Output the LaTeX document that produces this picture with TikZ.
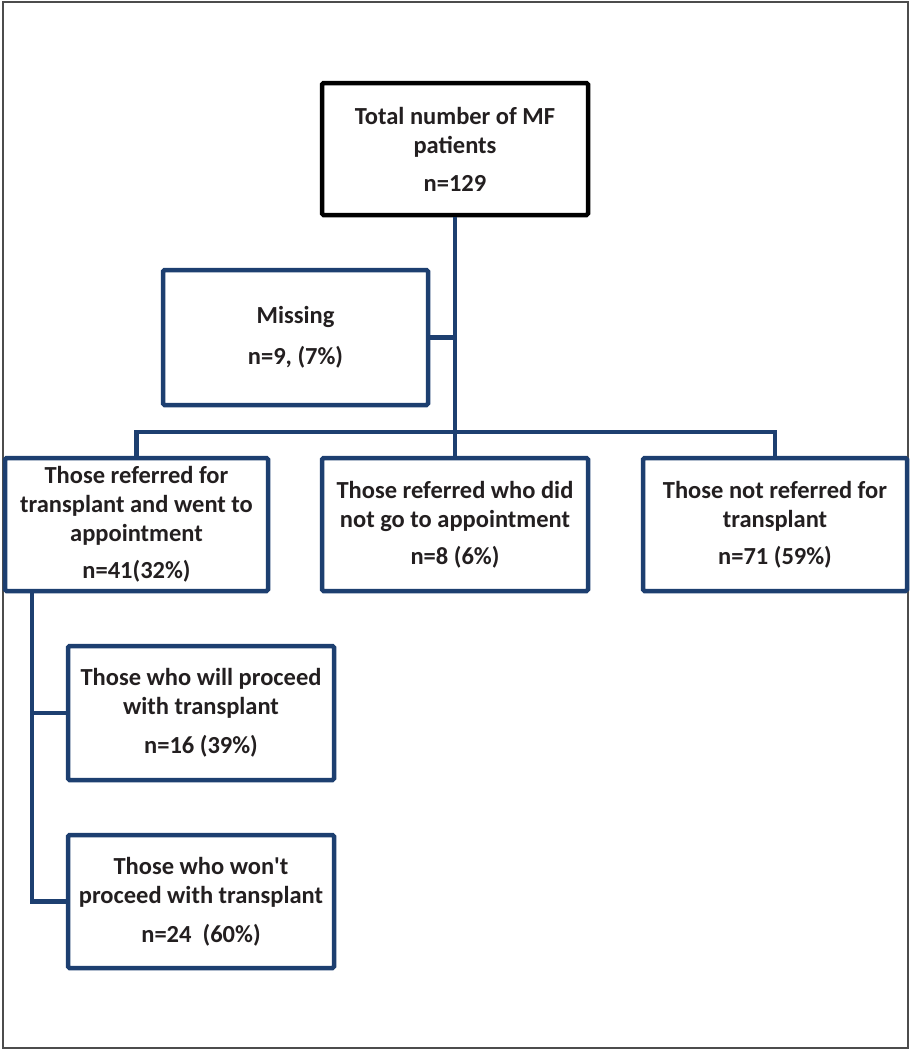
\documentclass[tikz,border=0pt]{standalone}
\usepackage{fontspec}
\setmainfont{Carlito}
\definecolor{navy}{HTML}{1D3F70}
\definecolor{ink}{HTML}{231F20}
\begin{document}
\begin{tikzpicture}[x=1pt,y=-1pt,
  box/.style={draw=navy,line width=4.5pt,rounded corners=1.5pt,fill=white,
    text=ink,align=center,inner sep=0pt,
    font=\fontsize{24.5}{29}\selectfont\bfseries},
  blackbox/.style={box,draw=black},
  link/.style={draw=navy,line width=4.5pt}]
\useasboundingbox (0,0) rectangle (911,1050);
\draw[draw=black!70,line width=2pt] (3,2) rectangle (908,1048);
% nodes
\node[blackbox,minimum width=266,minimum height=132] (top) at (455,149)
  {Total number of MF\\patients\\[9pt]n=129};
\node[box,minimum width=265,minimum height=135] (miss) at (295.5,337.5)
  {Missing\\[12pt]n=9, (7\%)};
\node[box,minimum width=263,minimum height=133] (left) at (136.5,524.5)
  {Those referred for\\transplant and went to\\appointment\\[8pt]n=41(32\%)};
\node[box,minimum width=266,minimum height=133] (mid) at (455,524.5)
  {Those referred who did\\not go to appointment\\[8pt]n=8 (6\%)};
\node[box,minimum width=264,minimum height=133] (right) at (775,524.5)
  {Those not referred for\\transplant\\[8pt]n=71 (59\%)};
\node[box,minimum width=266,minimum height=134] (will) at (201,713)
  {Those who will proceed\\with transplant\\[10pt]n=16 (39\%)};
\node[box,minimum width=266,minimum height=133] (wont) at (201,901.5)
  {Those who won\textquotesingle t\\proceed with transplant\\[10pt]n=24~~(60\%)};
\coordinate (j) at (455,432);
\coordinate (c) at (32,600);
% connectors
\draw[link] (top.south) -- (mid.north);
\draw[link] (miss.east) -- (miss.east -| top.south);
\draw[link] (left.north) |- (j) -| (right.north);
\draw[link] (left.south -| c) |- (wont.west);
\draw[link] (c |- will.west) -- (will.west);
\end{tikzpicture}
\end{document}
